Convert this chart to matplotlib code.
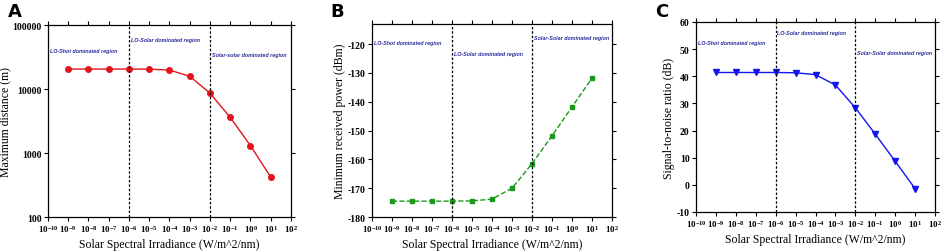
import numpy as np
import matplotlib
matplotlib.use("Agg")
import matplotlib.pyplot as plt
from matplotlib.ticker import FixedLocator, NullLocator

# Solar spectral irradiance (W/m^2/nm)
irradiance = [1e-9, 1e-8, 1e-7, 1e-6, 1e-5, 1e-4, 1e-3, 1e-2, 1e-1, 1e0, 1e1]

# Panel A: maximum distance (m)
max_distance = [20500, 20500, 20500, 20500, 20400, 19800, 15800, 8600, 3600, 1300, 420]
# Panel B: minimum received power (dBm)
min_power = [-174.5, -174.5, -174.5, -174.5, -174.4, -173.8, -170.0, -161.5, -151.8, -141.8, -131.8]
# Panel C: signal-to-noise ratio (dB)
snr = [41.4, 41.4, 41.4, 41.4, 41.3, 40.6, 36.8, 28.4, 18.7, 8.7, -1.4]

yticks_a = [100, 1000, 10000, 100000]
yticks_b = [-180, -170, -160, -150, -140, -130, -120]
yticks_c = [-10, 0, 10, 20, 30, 40, 50, 60]

region_labels_a = ["LO-Shot dominated region", "LO-Solar dominated region", "Solar-solar dominated region"]
region_labels_bc = ["LO-Shot dominated region", "LO-Solar dominated region", "Solar-Solar dominated region"]
boundaries = [1e-6, 1e-2]
xtick_exps = list(range(-10, 3))

serif = "Liberation Serif"
label_color = "#2b2b9c"

plt.rcParams["mathtext.fontset"] = "custom"
plt.rcParams["mathtext.rm"] = "Liberation Serif:bold"
plt.rcParams["mathtext.it"] = "Liberation Serif:bold"
plt.rcParams["mathtext.bf"] = "Liberation Serif:bold"

fig = plt.figure(figsize=(9.41, 2.53), dpi=100)
W, H = 941, 253


def make_ax(l, r, t, b):
    return fig.add_axes([l / W, 1 - b / H, (r - l) / W, (b - t) / H])


def style_axis(ax, yticks):
    ax.set_xscale("log")
    ax.set_xlim(1e-10, 1e2)
    ax.xaxis.set_major_locator(FixedLocator([10.0 ** e for e in xtick_exps]))
    ax.xaxis.set_minor_locator(NullLocator())
    ax.set_xticklabels([f"$10^{{{e}}}$" for e in xtick_exps], fontsize=6.5)
    ax.set_yticks(yticks, [str(v) for v in yticks], fontfamily=serif,
                  fontweight="bold", fontsize=7)
    ax.yaxis.set_minor_locator(NullLocator())
    ax.tick_params(axis="both", which="major", direction="out", length=3, width=0.8,
                   top=True, right=True, pad=1.5)
    for s in ax.spines.values():
        s.set_linewidth(0.9)
    for xb in boundaries:
        ax.axvline(xb, color="black", linestyle=(0, (2, 1.5)), linewidth=0.9)
    ax.set_xlabel("Solar Spectral Irradiance (W/m^2/nm)", fontfamily=serif, fontsize=8.5, labelpad=3)


def region_text(ax, labels, ys):
    xs = [1.3e-10, 1.2e-6, 1.2e-2]
    for x, y, t in zip(xs, ys, labels):
        ax.text(x, y, t, fontsize=3.9, fontstyle="italic", fontweight="bold",
                color=label_color, family="Liberation Sans", va="center", ha="left")


# Panel A
axA = make_ax(48, 291, 26, 218)
axA.plot(irradiance, max_distance, "-o", color="#e3141c", markersize=4, linewidth=1)
axA.set_yscale("log")
axA.set_ylim(100, 100000)
style_axis(axA, yticks_a)
axA.set_ylabel("Maximum distance (m)", fontfamily=serif, fontsize=8.5, labelpad=1)
region_text(axA, region_labels_a, [40000, 60000, 35000])
fig.text(8 / W, 1 - 12 / H, "A", fontsize=13, fontweight="bold", va="center")

# Panel B
axB = make_ax(372, 612, 25, 218)
axB.plot(irradiance, min_power, "--s", color="#1a9a1a", markersize=3.5, linewidth=1)
axB.set_ylim(-180, -113)
style_axis(axB, yticks_b)
axB.set_ylabel("Minimum received power (dBm)", fontfamily=serif, fontsize=8.5, labelpad=1)
region_text(axB, region_labels_bc, [-119.5, -123.2, -117.7])
fig.text(330 / W, 1 - 12 / H, "B", fontsize=13, fontweight="bold", va="center")

# Panel C
axC = make_ax(696, 935, 23, 213)
axC.plot(irradiance, snr, "-v", color="#1414f0", markersize=4, linewidth=1)
axC.set_ylim(-10, 60)
style_axis(axC, yticks_c)
axC.set_ylabel("Signal-to-noise ratio (dB)", fontfamily=serif, fontsize=8.5, labelpad=1)
region_text(axC, region_labels_bc, [52.5, 56.2, 48.8])
fig.text(655 / W, 1 - 12 / H, "C", fontsize=13, fontweight="bold", va="center")

fig.savefig("out.png", dpi=100)
